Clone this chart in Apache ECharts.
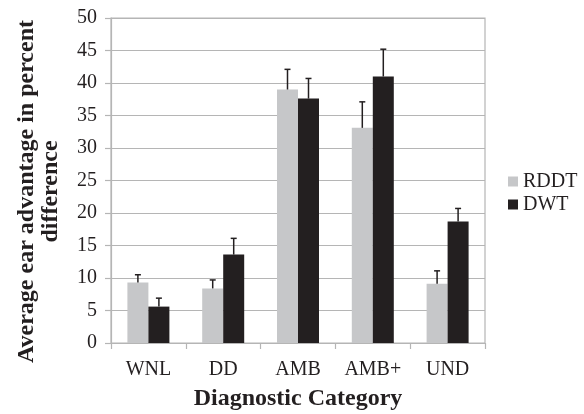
<!DOCTYPE html>
<html>
<head>
<meta charset="utf-8">
<script src="https://cdn.jsdelivr.net/npm/echarts@6/dist/echarts.min.js"></script>
<style>
html, body { margin: 0; padding: 0; background: #fff; }
#chart { width: 584px; height: 414px; }
</style>
</head>
<body>
<div id="chart"></div>
<script>
// data
var categories = ['WNL', 'DD', 'AMB', 'AMB+', 'UND'];
var rddtVals = [9.3, 8.4, 39.0, 33.1, 9.1];
var rddtErrTop = [10.5, 9.7, 42.1, 37.1, 11.1];
var dwtVals = [5.6, 13.6, 37.6, 41.0, 18.7];
var dwtErrTop = [6.9, 16.1, 40.7, 45.2, 20.7];
var yTicks = [0, 5, 10, 15, 20, 25, 30, 35, 40, 45, 50];

var ink = '#231f20';
var gridGray = '#b5b5b5';
var font = '"Liberation Serif", "DejaVu Serif", serif';
var barW = 21;

function errData(vals, tops) {
    var out = [];
    for (var i = 0; i < vals.length; i++) {
        out.push([i, vals[i], tops[i]]);
    }
    return out;
}

// upper error bar with a small cap
function errRender(offset) {
    return function (params, api) {
        var base = api.coord([api.value(0), api.value(1)]);
        var top = api.coord([api.value(0), api.value(2)]);
        var x = base[0] + offset;
        var cap = 3;
        return {
            type: 'group',
            children: [{
                type: 'line',
                shape: { x1: x, y1: base[1], x2: x, y2: top[1] },
                style: { stroke: ink, lineWidth: 1.5 }
            }, {
                type: 'line',
                shape: { x1: x - cap, y1: top[1], x2: x + cap, y2: top[1] },
                style: { stroke: ink, lineWidth: 1.5 }
            }]
        };
    };
}

var chart = echarts.init(document.getElementById('chart'));
var option = {
    animation: false,
    textStyle: { fontFamily: font, color: ink },
    grid: {
        left: 111, right: 99, top: 18, bottom: 71,
        outerBoundsMode: 'none',
        show: true, borderColor: gridGray, borderWidth: 1.2
    },
    legend: {
        data: ['RDDT', 'DWT'],
        orient: 'vertical',
        left: 508,
        top: 171,
        padding: 0,
        itemWidth: 10,
        itemHeight: 10,
        itemGap: 2,
        icon: 'rect',
        textStyle: { fontFamily: font, fontSize: 20, color: ink, lineHeight: 21 }
    },
    xAxis: {
        type: 'category',
        data: categories,
        name: 'Diagnostic Category',
        nameLocation: 'middle',
        nameGap: 44,
        nameTextStyle: { fontFamily: font, fontSize: 24, fontWeight: 'bold', color: ink },
        axisLine: { lineStyle: { color: gridGray, width: 1.2 } },
        axisTick: { show: true, length: 6, lineStyle: { color: gridGray, width: 1.2 } },
        axisLabel: { fontFamily: font, fontSize: 20, color: ink, margin: 17 },
        splitLine: { show: false }
    },
    yAxis: {
        type: 'value',
        min: 0, max: 50, interval: 5,
        name: 'Average ear advantage in percent\ndifference',
        nameLocation: 'middle',
        nameGap: 48,
        nameTextStyle: {
            fontFamily: font, fontSize: 24, fontWeight: 'bold', color: ink,
            lineHeight: 24, align: 'center', padding: [0, 22, 0, 0]
        },
        axisLine: { show: true, lineStyle: { color: gridGray, width: 1.2 } },
        axisTick: { show: true, length: 6, lineStyle: { color: gridGray, width: 1.2 } },
        axisLabel: {
            fontFamily: font, fontSize: 20, color: ink, margin: 14,
            formatter: function (v) { return yTicks.indexOf(v) >= 0 ? String(v) : ''; }
        },
        splitLine: { lineStyle: { color: gridGray, width: 1.2 } }
    },
    series: [{
        name: 'RDDT',
        type: 'bar',
        data: rddtVals,
        barWidth: barW,
        barGap: '0%',
        itemStyle: { color: '#c6c7c9' }
    }, {
        name: 'DWT',
        type: 'bar',
        data: dwtVals,
        barWidth: barW,
        barGap: '0%',
        itemStyle: { color: ink }
    }, {
        name: 'RDDT err',
        type: 'custom',
        renderItem: errRender(-barW / 2),
        data: errData(rddtVals, rddtErrTop),
        z: 5
    }, {
        name: 'DWT err',
        type: 'custom',
        renderItem: errRender(barW / 2),
        data: errData(dwtVals, dwtErrTop),
        z: 5
    }]
};
chart.setOption(option);
</script>
</body>
</html>
